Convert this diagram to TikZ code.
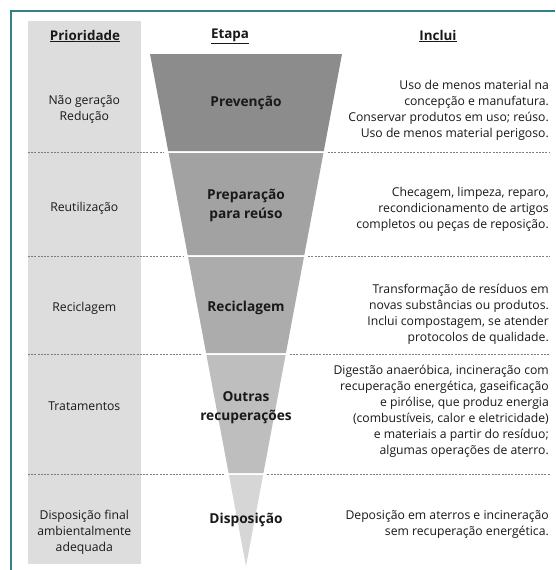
\documentclass[tikz,border=0pt]{standalone}
\usepackage{fontspec}
\setmainfont{Open Sans}
\usetikzlibrary{calc}
\definecolor{frameteal}{RGB}{52,128,138}
\definecolor{colgray}{RGB}{221,221,221}
\definecolor{bandA}{RGB}{140,140,140}
\definecolor{bandB}{RGB}{162,162,162}
\definecolor{bandC}{RGB}{172,172,172}
\definecolor{bandD}{RGB}{190,190,190}
\definecolor{bandE}{RGB}{214,214,214}
\definecolor{sepgray}{RGB}{125,125,125}
\definecolor{inktext}{RGB}{25,25,25}
% one horizontal slice of the funnel, between fractions #1 and #2 of its height
\newcommand{\funnelband}[3]{%
  \fill[#3] ($(TL)!#1!(AP)$) -- ($(TR)!#1!(AP)$) -- ($(TR)!#2!(AP)$) -- ($(TL)!#2!(AP)$) -- cycle;}
% dotted row divider at height #1, interrupted by the funnel at fraction #2
\newcommand{\rowdivider}[2]{%
  \draw[divider] (27.6,#1) -- ($(TL)!#2!(AP)+(-5,0)$);
  \draw[divider] ($(TR)!#2!(AP)+(4,0)$) -- (550,#1);}
\begin{document}
\begin{tikzpicture}[x=1pt,y=-1pt,
  every node/.style={text=inktext},
  body/.style={font=\fontsize{12.2}{16}\selectfont, inner sep=0pt},
  rightcol/.style={body, anchor=east, align=right},
  leftcol/.style={body, align=center},
  stage/.style={font=\fontsize{13.7}{18.5}\selectfont\bfseries, align=center, inner sep=0pt},
  head/.style={font=\fontsize{13.4}{16}\selectfont\bfseries, inner sep=0pt},
  divider/.style={draw=sepgray, line width=0.8pt, dash pattern=on 2pt off 1.3pt}]
\useasboundingbox (0,0) rectangle (555,570);
\fill[white] (0,0) rectangle (555,570);
% frame: top and left edges
\draw[frameteal, line width=1.6pt] (10.8,570) -- (10.8,10.8) -- (555,10.8);
% priority column
\fill[colgray] (27.6,20.8) rectangle (141,564);
% funnel
\coordinate (TL) at (150,54);
\coordinate (TR) at (342,54);
\coordinate (AP) at (246,566);
\funnelband{0}{0.18945}{bandA}
\funnelband{0.19336}{0.39258}{bandB}
\funnelband{0.39648}{0.58398}{bandC}
\funnelband{0.58789}{0.81836}{bandD}
\funnelband{0.82227}{1}{bandE}
% row dividers
\rowdivider{152}{0.19141}
\rowdivider{256}{0.39453}
\rowdivider{354}{0.58594}
\rowdivider{474}{0.82031}
% headings
\node[head] (hPri) at (85,36) {\underline{Prioridade}};
\node[head] (hEta) at (230,36) {\underline{Etapa}};
\node[head] (hInc) at (438,36) {\underline{Inclui}};
% priority column
\node[leftcol] (p1) at (84.3,109) {Não geração\\Redução};
\node[leftcol] (p2) at (84.3,208.5) {Reutilização};
\node[leftcol] (p3) at (84.3,308) {Reciclagem};
\node[leftcol] (p4) at (84.3,406.5) {Tratamentos};
\node[leftcol] (p5) at (84.3,532) {Disposição final\\ambientalmente\\adequada};
% stages
\node[stage] (s1) at (246,103) {Prevenção};
\node[stage] (s2) at (246,205.5) {Preparação\\para reúso};
\node[stage] (s3) at (246,308) {Reciclagem};
\node[stage] (s4) at (246,407.5) {Outras\\recuperações};
\node[stage] (s5) at (246,520) {Disposição};
% descriptions
\node[rightcol] (d1) at (549,110) {Uso de menos material na\\concepção e manufatura.\\Conservar produtos em uso; reúso.\\Uso de menos material perigoso.};
\node[rightcol] (d2) at (549,209) {Checagem, limpeza, reparo,\\recondicionamento de artigos\\completos ou peças de reposição.};
\node[rightcol] (d3) at (549,314.7) {Transformação de resíduos em\\novas substâncias ou produtos.\\Inclui compostagem, se atender\\protocolos de qualidade.};
\node[rightcol] (d4) at (549,411) {Digestão anaeróbica, incineração com\\recuperação energética, gaseificação\\e pirólise, que produz energia\\(combustíveis, calor e eletricidade)\\e materiais a partir do resíduo;\\algumas operações de aterro.};
\node[rightcol] (d5) at (549,524.5) {Deposição em aterros e incineração\\sem recuperação energética.};
\end{tikzpicture}
\end{document}
